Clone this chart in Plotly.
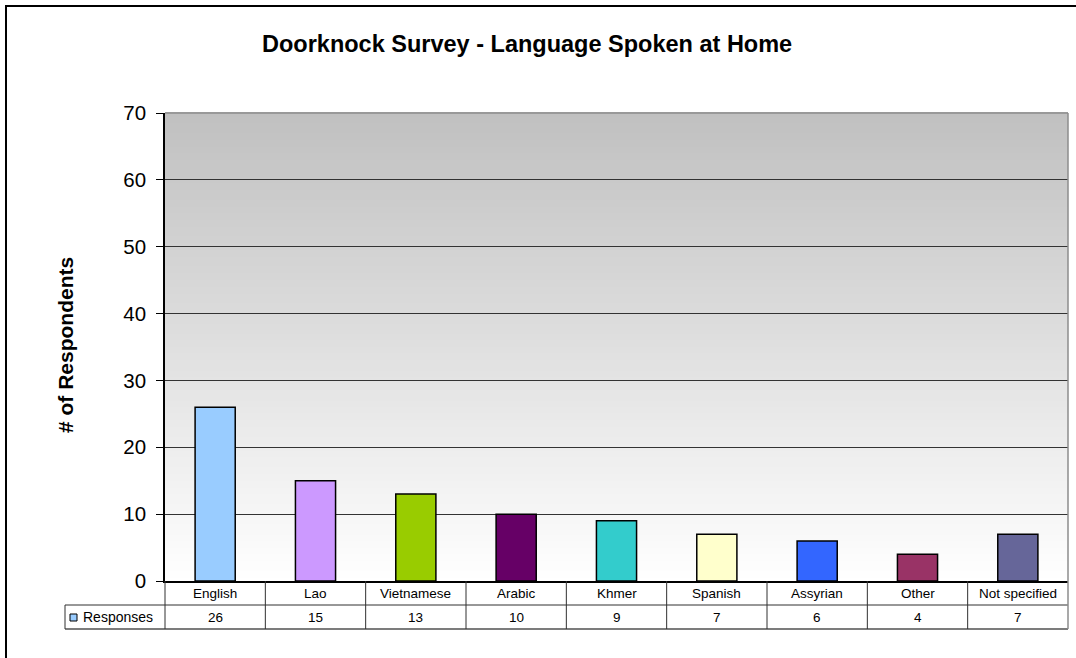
import plotly.graph_objects as go

# Survey results
languages = ["English", "Lao", "Vietnamese", "Arabic", "Khmer", "Spanish",
             "Assyrian", "Other", "Not specified"]
responses = [26, 15, 13, 10, 9, 7, 6, 4, 7]
bar_colors = ["#99ccff", "#cc99ff", "#99cc00", "#660066", "#33cccc",
              "#ffffcc", "#3366ff", "#993366", "#666699"]
y_ticks = [0, 10, 20, 30, 40, 50, 60, 70]
series_name = "Responses"
title_text = "Doorknock Survey - Language Spoken at Home"
y_title = "# of Respondents"

W, H = 1076, 658
L, R, T, B = 165, 8, 113, 77          # plot-area margins in pixels
PW, PH = W - L - R, H - T - B
FONT = "Liberation Sans, Arial, sans-serif"


def px_x(p):
    return (p - L) / PW


def px_y(p):
    return (H - B - p) / PH


fig = go.Figure()
fig.add_trace(go.Bar(
    x=languages, y=responses, name=series_name,
    marker=dict(color=bar_colors, line=dict(color="#000000", width=1.5)),
    showlegend=False, hoverinfo="x+y",
))

shapes = []

# vertical grey-to-white gradient behind the plot area
n_strips = 140
for i in range(n_strips):
    f0, f1 = i / n_strips, (i + 1) / n_strips
    v = int(round(255 - (f0 + f1) / 2 * 63))
    shapes.append(dict(type="rect", xref="x domain", yref="y domain",
                       x0=0, x1=1, y0=f0, y1=f1 + 0.002, layer="below",
                       line=dict(width=0), fillcolor=f"rgb({v},{v},{v})"))

# plot-area border (top and right)
shapes.append(dict(type="line", xref="paper", yref="paper", x0=0, x1=1, y0=1, y1=1,
                   line=dict(color="#8c8c8c", width=1.5)))
shapes.append(dict(type="line", xref="paper", yref="paper", x0=1, x1=1, y0=0, y1=1,
                   line=dict(color="#8c8c8c", width=1.5)))

# outer chart frame
shapes.append(dict(type="rect", xref="paper", yref="paper",
                   x0=px_x(6), x1=px_x(1100), y0=px_y(6), y1=px_y(700),
                   line=dict(color="#000000", width=2), fillcolor="rgba(0,0,0,0)"))

# data table grid
row1, row2, row3 = 581, 605, 629
tbl_line = dict(color="#303030", width=1)
shapes.append(dict(type="line", xref="paper", yref="paper",
                   x0=0, x1=1, y0=px_y(row2), y1=px_y(row2), line=tbl_line))
shapes.append(dict(type="line", xref="paper", yref="paper",
                   x0=px_x(65), x1=0, y0=px_y(row2), y1=px_y(row2), line=tbl_line))
shapes.append(dict(type="line", xref="paper", yref="paper",
                   x0=px_x(65), x1=1, y0=px_y(row3), y1=px_y(row3),
                   line=dict(color="#505050", width=1.5)))
shapes.append(dict(type="line", xref="paper", yref="paper",
                   x0=px_x(65), x1=px_x(65), y0=px_y(row2), y1=px_y(row3), line=tbl_line))
n = len(languages)
for k in range(n + 1):
    xd = k / n
    shapes.append(dict(type="line", xref="paper", yref="paper",
                       x0=xd, x1=xd, y0=px_y(row1), y1=px_y(row3),
                       line=dict(color="#8c8c8c" if k == n else "#303030",
                                 width=1.5 if k == n else 1)))

# legend key in the table header cell
shapes.append(dict(type="rect", xref="paper", yref="paper",
                   x0=px_x(70), x1=px_x(77), y0=px_y(621), y1=px_y(614),
                   fillcolor=bar_colors[0], line=dict(color="#000000", width=1)))

cell_font = dict(size=13.5, color="#000000", family=FONT)
annotations = []
for lang, val in zip(languages, responses):
    annotations.append(dict(x=lang, xref="x", y=px_y((row1 + row2) / 2), yref="paper",
                            xanchor="center", yanchor="middle",
                            text=lang, showarrow=False, font=cell_font))
    annotations.append(dict(x=lang, xref="x", y=px_y((row2 + row3) / 2), yref="paper",
                            xanchor="center", yanchor="middle",
                            text=str(val), showarrow=False, font=cell_font))
annotations.append(dict(x=px_x(81), xref="paper", y=px_y((row2 + row3) / 2), yref="paper",
                        xanchor="left", yanchor="middle", text=series_name,
                        showarrow=False, font=dict(size=14, color="#000000", family=FONT)))
annotations.append(dict(x=px_x(527), xref="paper", y=px_y(44), yref="paper",
                        xanchor="center", yanchor="middle",
                        text=f"<b>{title_text}</b>", showarrow=False,
                        font=dict(size=23.5, color="#000000", family=FONT)))
annotations.append(dict(x=px_x(65), xref="paper", y=px_y(345), yref="paper",
                        xanchor="center", yanchor="middle",
                        text=f"<b>{y_title}</b>", textangle=-90, showarrow=False,
                        font=dict(size=21, color="#000000", family=FONT)))

fig.update_layout(
    width=W, height=H,
    margin=dict(l=L, r=R, t=T, b=B, pad=0),
    paper_bgcolor="#ffffff", plot_bgcolor="#ffffff",
    bargap=0.6,
    shapes=shapes, annotations=annotations,
    font=dict(family=FONT, color="#000000"),
    xaxis=dict(showticklabels=False, ticks="", showgrid=False, zeroline=False,
               showline=True, linecolor="#000000", linewidth=1.5, fixedrange=True),
    yaxis=dict(range=[0, 70], tickvals=y_ticks, ticks="outside", ticklen=7,
               tickcolor="#000000", tickwidth=1, ticklabelstandoff=6,
               tickfont=dict(size=20.5, family=FONT, color="#000000"),
               showline=True, linecolor="#000000", linewidth=1.5,
               showgrid=True, gridcolor="#333333", gridwidth=1,
               zeroline=False, fixedrange=True),
)

fig.write_html("out.html")
